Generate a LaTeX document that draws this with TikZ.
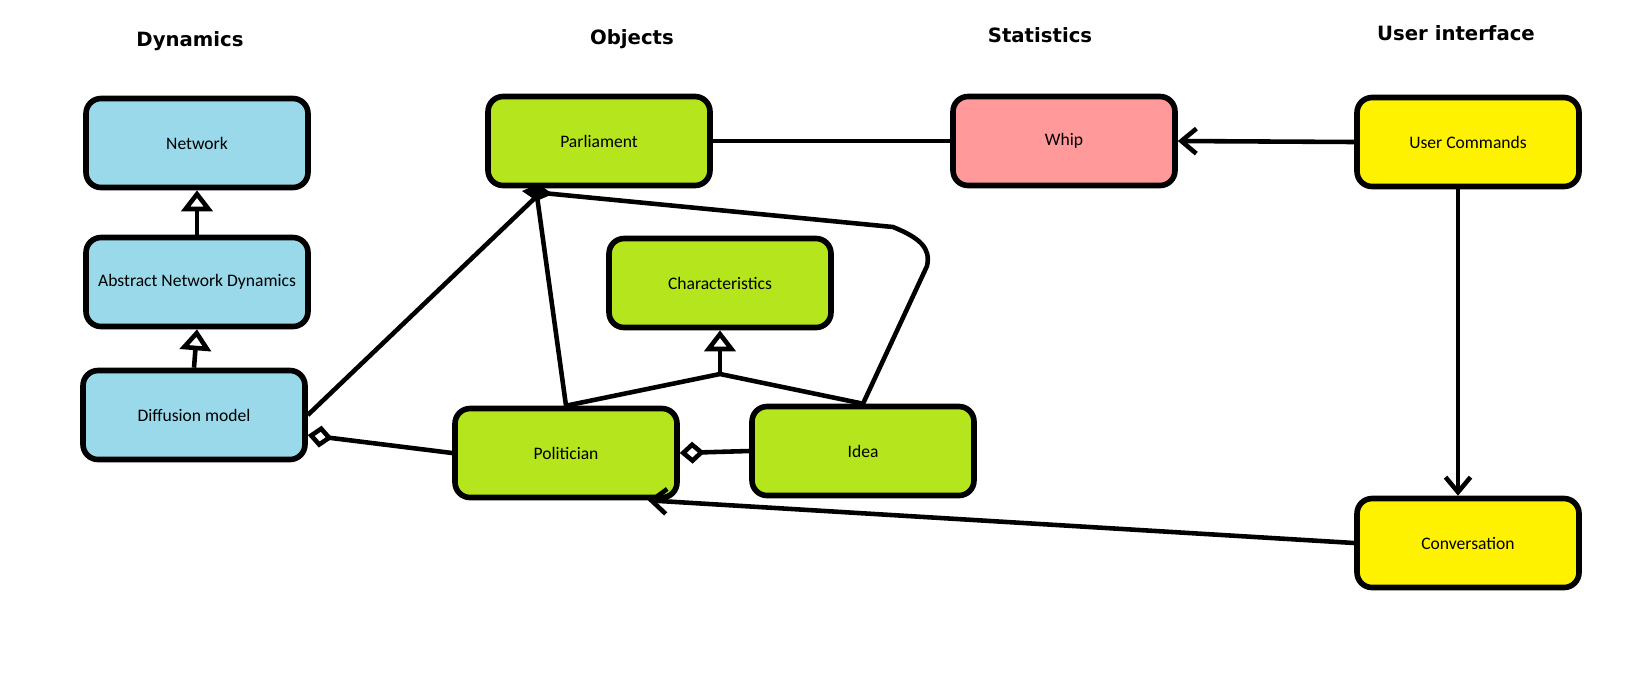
\documentclass[tikz,border=0pt]{standalone}
\usepackage{fontspec}
\setmainfont{Carlito}
\newfontfamily\headfont{DejaVu Sans}
\usetikzlibrary{arrows.meta}
\definecolor{dynblue}{HTML}{99D9EA}
\definecolor{objgreen}{HTML}{B5E61D}
\definecolor{statpink}{HTML}{FF999A}
\definecolor{uiyellow}{HTML}{FFF200}
\tikzset{
  classbox/.style={draw, line width=3.2pt, rounded corners=0.3cm,
    minimum width=4.44cm, minimum height=1.78cm, inner sep=0pt,
    font=\fontsize{10}{12}\selectfont},
  heading/.style={anchor=base, font=\headfont\bfseries\fontsize{11.2}{13}\selectfont},
  link/.style={line width=2.6pt},
  inherit/.style={link, -{Triangle[open, length=0.42cm, width=0.62cm]}},
  aggr/.style={link, -{Diamond[open, length=0.5cm, width=0.44cm]}},
  comp/.style={link, -{Diamond[length=0.62cm, width=0.34cm]}},
  assoc/.style={link, -{Straight Barb[length=0.3cm, width=0.5cm]}}
}
\begin{document}
\begin{tikzpicture}[x=0.02cm, y=-0.02cm]
    \useasboundingbox (0,0) rectangle (1652,674);
    %Headings
    \node[heading] (hdyn) at (190,46) {Dynamics};
    \node[heading] (hobj) at (632,44) {Objects};
    \node[heading] (hstat) at (1040,42) {Statistics};
    \node[heading] (hui) at (1456,40) {User interface};
    %Dynamics
    \node[classbox, fill=dynblue] (network) at (197,143) {Network};
    \node[classbox, fill=dynblue] (abstract) at (197,282) {Abstract Network Dynamics};
    \node[classbox, fill=dynblue] (diffusion) at (194,415) {Diffusion model};
    %Objects
    \node[classbox, fill=objgreen] (parliament) at (599,141) {Parliament};
    \node[classbox, fill=objgreen] (characteristics) at (720,283) {Characteristics};
    \node[classbox, fill=objgreen] (politician) at (566,453) {Politician};
    \node[classbox, fill=objgreen] (idea) at (863,451) {Idea};
    %Statistics
    \node[classbox, fill=statpink] (whip) at (1064,141) {Whip};
    %User interface
    \node[classbox, fill=uiyellow] (usercmd) at (1468,142) {User Commands};
    \node[classbox, fill=uiyellow] (conversation) at (1468,543) {Conversation};
    %Inheritance
    \draw[inherit] (abstract.north) -- (network.south);
    \draw[inherit] (diffusion.north) -- (abstract.south);
    \coordinate (junc) at (720,374);
    \draw[link] (politician.north) -- (junc) -- (idea.north);
    \draw[inherit] (junc) -- (characteristics.south);
    %Parliament parts
    \coordinate (hub) at (537,196);
    \coordinate (hubtip) at (522,191);
    \coordinate (bendlow) at (927,266);
    \coordinate (bendtop) at (893,227);
    \draw[link] (diffusion.east) -- (hub);
    \draw[link] (politician.north) -- (hub);
    \draw[comp] (idea.north) -- (bendlow)
        .. controls (931,248) and (920,238) .. (bendtop) -- (hubtip);
    %Aggregation
    \draw[aggr] (idea.west) -- (politician.east);
    \draw[aggr] (politician.west) -- (diffusion.-10);
    %Associations
    \draw[link] (parliament.east) -- (whip.west);
    \draw[assoc] (usercmd.west) -- (whip.east);
    \draw[assoc] ([xshift=-0.2cm]usercmd.south) -- ([xshift=-0.2cm]conversation.north);
    \draw[assoc] (conversation.west) -- (politician.-30);
\end{tikzpicture}
\end{document}
